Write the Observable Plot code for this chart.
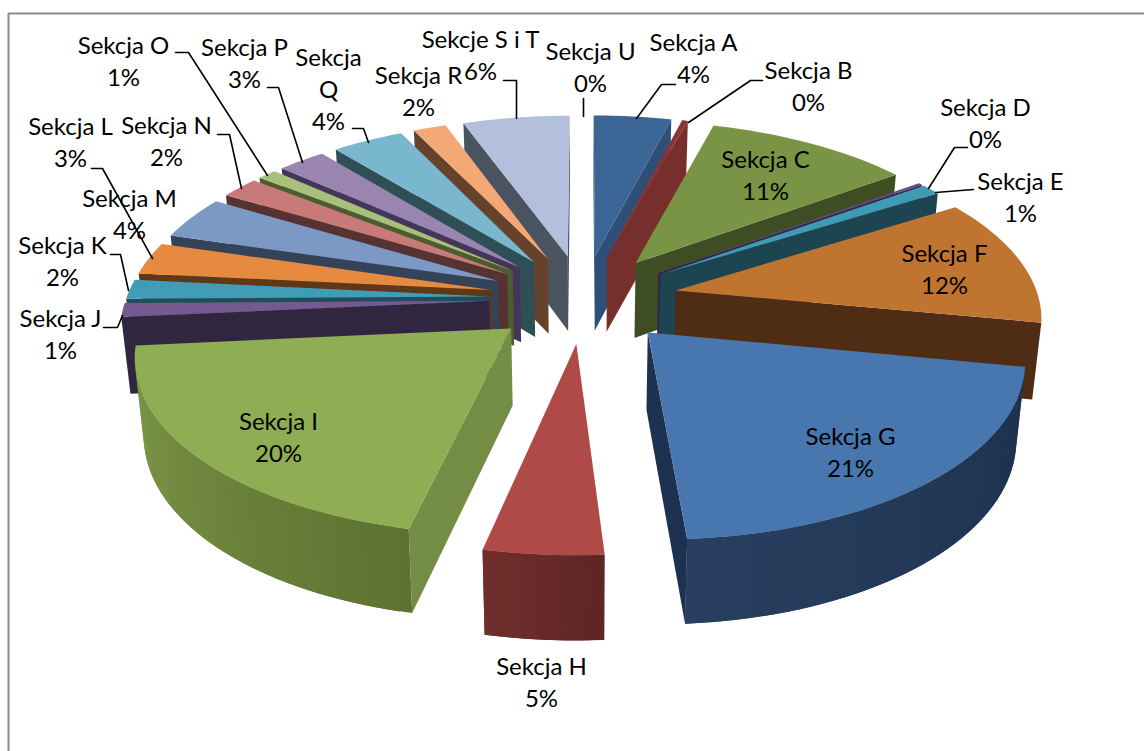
<!DOCTYPE html>
<html><head><meta charset="utf-8">
<style>html,body{margin:0;padding:0;background:#fff;overflow:hidden}svg{display:block}</style>
<script src="https://cdn.jsdelivr.net/npm/d3@7"></script>
<script src="https://cdn.jsdelivr.net/npm/@observablehq/plot@0.6"></script>
</head><body><div id="chart"></div>
<script>
const sections = ["A","B","C","D","E","F","G","H","I","J","K","L","M","N","O","P","Q","R","S i T","U"];
const shares = [4.0,0.3,10.6,0.2,1.0,11.9,20.92,4.5,20.08,1.3,1.8,3.0,4.0,2.0,1.0,2.5,3.7,1.7,5.5,0];
const labelText = ["Sekcja A\n4%","Sekcja B\n0%","Sekcja C\n11%","Sekcja D\n0%","Sekcja E\n1%","Sekcja F\n12%","Sekcja G\n21%","Sekcja H\n5%","Sekcja I\n20%","Sekcja J\n1%","Sekcja K\n2%","Sekcja L\n3%","Sekcja M\n4%","Sekcja N\n2%","Sekcja O\n1%","Sekcja P\n3%","Sekcja\nQ\n4%","Sekcja R\n2%","Sekcje S i T\n6%","Sekcja U\n0%"];

const topColors = ["#3A6594","#8a3533","#7A9445","#5E4A7E","#3F9BB2","#BF7430","#4876AE","#AF4A48","#8FAD52","#75598F","#419CB8","#E58A3E","#7C99C5","#C87A78","#A9C07A","#9A84B0","#79B7CE","#F3A875","#B2C0DC","#aaaaaa"];
const cutColors = ["#2E5078","#772F2D","#3F4D23","#32264A","#1D4451","#4F2C14","#1C3250","#6e2d2c","#738D45","#31263F","#1E4D5C","#5F3817","#354359","#563232","#4D5C2E","#43365A","#2F4E55","#66422A","#4A5360","#555555"];
const outerFrom = ["#2E5078","#772F2D","#3F4D23","#32264A","#1D4451","#4F2C14","#1D314C","#5E2625","#5D7231","#31263F","#1E4D5C","#5F3817","#354359","#563232","#4D5C2E","#43365A","#2F4E55","#66422A","#4A5360","#555555"];
const outerTo = ["#2E5078","#772F2D","#3F4D23","#32264A","#1D4451","#4F2C14","#283F60","#702E2C","#7F9A49","#31263F","#1E4D5C","#5F3817","#354359","#563232","#4D5C2E","#43365A","#2F4E55","#66422A","#4A5360","#555555"];

// label anchor points, in picture pixels
const labelX = [693,808,765,985,1020,944,850,541,278,60,62,70,129,166,123,244,328,418,480,590];
const labelY = [56,84,173,121,195,267,450,680,435,332,259,140,212,139,59,61,87,89,53,65];

// leader lines (picture pixels)
const leaders = [
  [[636,118],[661,84],[675,84]],
  [[688,122],[750,80],[762,80]],
  [[928,188],[954,147],[967,147]],
  [[935,192],[973,189]],
  [[583,98],[583,116]],
  [[516,118],[516,80],[503,80]],
  [[368,142],[363,128],[352,128]],
  [[302,162],[278,87],[267,87]],
  [[267,175],[188,52],[175,52]],
  [[241,188],[229,134],[217,134]],
  [[152,258],[102,168],[91,168]],
  [[128,290],[120,254],[110,254]],
  [[122,315],[117,327],[103,327]]
];

const W = 1144, H = 751;
const cam = {cx:583, cy:298, a:169.8, b:363, k:0.133, h:76, e:0.26, taper:0.02};
function project(X, Y, low) {
  const s = 1 / (1 - cam.k * Y);
  const hs = 1 + (s - 1) * 0.6;
  return [cam.cx + cam.b * X * s * (low ? 1 - cam.taper : 1), cam.cy + cam.a * Y * s + (low ? cam.h * hs : 0)];
}
const rad = p => p * 2 * Math.PI / 100;
const ends = d3.cumsum(shares);

const slices = shares.map((v, i) => {
  const p0 = i ? ends[i-1] : 0, p1 = ends[i], mid = rad((p0 + p1) / 2);
  return {i, p0, p1, ox: cam.e * Math.sin(mid), oy: -cam.e * Math.cos(mid), depth: -Math.cos(mid)};
}).filter(s => s.p1 > s.p0).sort((a, b) => a.depth - b.depth);

const rows = [];
let pid = 0;
function addPoly(pts, color) {
  const id = pid++;
  for (const [x, y] of [...pts, pts[0]]) rows.push({id, x, y, color});
}
function area(pts) {
  let s = 0;
  pts.forEach((p, j) => { const q = pts[(j + 1) % pts.length]; s += p[0] * q[1] - q[0] * p[1]; });
  return s;
}
for (const sl of slices) {
  const n = Math.max(2, Math.ceil((sl.p1 - sl.p0) * 2));
  const rim = d3.range(n + 1).map(j => {
    const t = rad(sl.p0 + (sl.p1 - sl.p0) * j / n);
    return [sl.ox + Math.sin(t), sl.oy - Math.cos(t)];
  });
  const apex = [sl.ox, sl.oy];
  const quad = (P, Q) => [project(P[0], P[1], 0), project(Q[0], Q[1], 0), project(Q[0], Q[1], 1), project(P[0], P[1], 1)];
  const wall = (P, Q, color) => { const f = quad(P, Q); if (area(f) < 0) addPoly(f, color); };
  wall(apex, rim[0], cutColors[sl.i]);
  wall(rim[n], apex, cutColors[sl.i]);
  const mix = d3.interpolateRgb(outerFrom[sl.i], outerTo[sl.i]);
  // each band overlaps the next one, so that no seam shows between them
  for (let j = 0; j < n; j++) {
    if (area(quad(rim[j], rim[j + 1])) >= 0) continue;
    addPoly(quad(rim[j], rim[Math.min(j + 2, n)]), d3.color(mix((j + 0.5) / n)).formatHex());
  }
  addPoly([apex, ...rim].map(p => project(p[0], p[1], 0)), topColors[sl.i]);
}

const labelRows = labelText.map((text, i) => ({text, x: labelX[i], y: labelY[i]}));
const leaderRows = leaders.flatMap((pts, id) => pts.map(([x, y]) => ({id, x, y})));

const chart = Plot.plot({
  width: W, height: H, margin: 0,
  x: {domain: [0, W], range: [0, W], axis: null},
  y: {domain: [0, H], range: [0, H], axis: null},
  color: {type: "identity"},
  style: {background: "#fff"},
  marks: [
    Plot.ruleX([8], {y1: 13, y2: H, stroke: "#8c8c8c", strokeWidth: 2}),
    Plot.ruleY([13], {x1: 8, x2: W, stroke: "#8c8c8c", strokeWidth: 2}),
    Plot.line(rows, {x: "x", y: "y", z: "id", fill: "color", stroke: "none", curve: "linear"}),
    Plot.line(leaderRows, {x: "x", y: "y", z: "id", stroke: "#000", strokeWidth: 1.6, curve: "linear"}),
    Plot.text(labelRows, {x: "x", y: "y", text: "text", fontFamily: "Lato", fontSize: 24, lineHeight: 1.33, fill: "#000", textAnchor: "middle"})
  ]
});
document.getElementById("chart").append(chart);
</script></body></html>
